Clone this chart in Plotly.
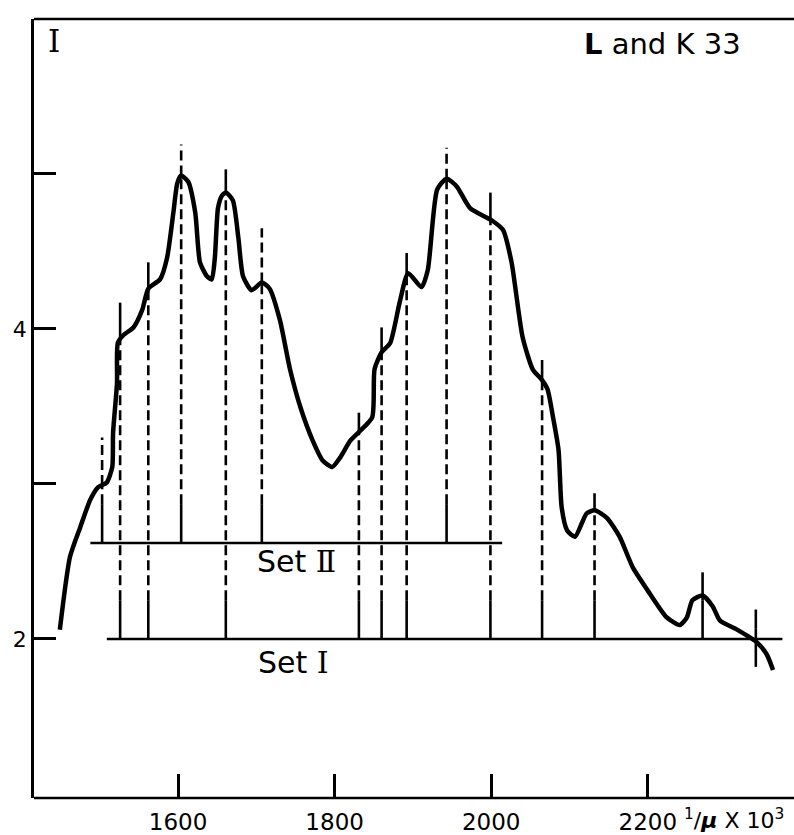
import numpy as np
import plotly.graph_objects as go

# ---- data ----
wavenumber = [1449, 1462, 1475, 1488, 1498, 1509, 1516, 1517, 1522, 1523,
              1530, 1543, 1554, 1562, 1577, 1586, 1594, 1599, 1604, 1613,
              1622, 1628, 1637, 1643, 1647, 1651, 1656, 1661, 1670, 1677, 1683,
              1694, 1707, 1717, 1730, 1743, 1756, 1772, 1785, 1797, 1807, 1820, 1832,
              1848, 1851, 1860, 1871, 1883, 1894, 1911, 1919, 1931, 1943,
              1956, 1973, 2001, 2015, 2026, 2040, 2053, 2065, 2072, 2079,
              2086, 2090, 2097, 2107, 2116, 2122, 2132, 2148, 2164, 2181, 2199,
              2224, 2241, 2250, 2257, 2270, 2283, 2292, 2314, 2339, 2352, 2360]
intensity = [2.06, 2.53, 2.72, 2.90, 2.98, 3.01, 3.11, 3.33, 3.65, 3.91,
             3.96, 4.01, 4.12, 4.26, 4.32, 4.46, 4.75, 4.94, 4.99, 4.95,
             4.75, 4.43, 4.34, 4.32, 4.46, 4.78, 4.86, 4.88, 4.83, 4.59, 4.34,
             4.25, 4.30, 4.26, 4.06, 3.74, 3.50, 3.28, 3.15, 3.11, 3.17, 3.28, 3.34,
             3.43, 3.74, 3.85, 3.91, 4.17, 4.36, 4.27, 4.38, 4.90, 4.97,
             4.92, 4.78, 4.70, 4.64, 4.43, 3.95, 3.74, 3.67, 3.61, 3.43,
             3.22, 2.85, 2.70, 2.66, 2.75, 2.81, 2.83, 2.78, 2.66, 2.46, 2.32,
             2.14, 2.09, 2.14, 2.25, 2.28, 2.21, 2.12, 2.06, 1.98, 1.90, 1.80]

set2_level = 2.62
set2_span = [1488, 2014]
set2_x = [1503, 1604, 1707, 1943]
set2_top = [3.30, 5.19, 4.65, 5.17]

set1_level = 2.0
set1_span = [1509, 2372]
set1_x = [1526, 1562, 1661, 1831, 1860, 1892, 1999, 2065, 2132, 2270, 2338]
set1_top = [4.17, 4.43, 5.03, 3.46, 4.01, 4.49, 4.88, 3.80, 2.94, 2.43, 2.19]
set1_bottom = [2.0, 2.0, 2.0, 2.0, 2.0, 2.0, 2.0, 2.0, 2.0, 2.0, 1.82]

x_ticks = [1600, 1800, 2000, 2200]
y_ticks = [2, 3, 4, 5]
y_ticktext = ["2", "", "4", ""]

fig = go.Figure()

# main spectrum curve
fig.add_trace(go.Scatter(x=wavenumber, y=intensity, mode="lines",
                         line=dict(color="black", width=4.5, shape="spline", smoothing=0.6),
                         hoverinfo="skip", showlegend=False, cliponaxis=False))

# set baselines
fig.add_trace(go.Scatter(x=set2_span, y=[set2_level, set2_level], mode="lines",
                         line=dict(color="black", width=2.5), showlegend=False))
fig.add_trace(go.Scatter(x=set1_span, y=[set1_level, set1_level], mode="lines",
                         line=dict(color="black", width=2.5), showlegend=False,
                         cliponaxis=False))


def build(xs, bottoms, tops, solid_over):
    sx, sy, dx, dy = [], [], [], []
    for xv, b, t in zip(xs, bottoms, tops):
        c = float(np.interp(xv, wavenumber, intensity))
        sb = min(b + 0.25, t)
        sx += [xv, xv, None]
        sy += [b, sb, None]
        if c > sb:
            dx += [xv, xv, None]
            dy += [sb, c, None]
        lo = max(c, sb)
        if t > lo:
            if solid_over:
                sx += [xv, xv, None]
                sy += [lo, t, None]
            else:
                dx += [xv, xv, None]
                dy += [lo, t, None]
    return sx, sy, dx, dy


for xs, bots, tops, so in [
    (set2_x, [set2_level] * len(set2_x), set2_top, False),
    (set1_x, set1_bottom, set1_top, True),
]:
    sx, sy, dx, dy = build(xs, bots, tops, so)
    fig.add_trace(go.Scatter(x=sx, y=sy, mode="lines",
                             line=dict(color="black", width=2.6), showlegend=False))
    fig.add_trace(go.Scatter(x=dx, y=dy, mode="lines",
                             line=dict(color="black", width=2.6, dash="10px,5px"),
                             showlegend=False))

font_main = "DejaVu Sans"
roman = "font-family:DejaVu Serif"
fig.add_annotation(x=1751, y=2.50, text=f"Set <span style='{roman}'>Ⅱ</span>", showarrow=False,
                   font=dict(family=font_main, size=30, color="black"))
fig.add_annotation(x=1747, y=1.85, text=f"Set <span style='{roman}'>Ⅰ</span>", showarrow=False,
                   font=dict(family=font_main, size=30, color="black"))
fig.add_annotation(x=2219, y=5.84, text="<b>L</b> and K 33", showarrow=False,
                   font=dict(family=font_main, size=29, color="black"))
fig.add_annotation(x=1442, y=5.86, text="I", showarrow=False,
                   font=dict(family="DejaVu Serif", size=31, color="black"))
fig.add_annotation(x=2244, xanchor="left", y=0, yref="paper", yanchor="top", yshift=-5,
                   text="<sup>1</sup>/<i><b>μ</b></i> X 10<sup>3</sup>", showarrow=False,
                   font=dict(family=font_main, size=22, color="black"))

# frame lines (top and bottom) running to the page edge
edge = 760 / 750
for yy in (0, 1):
    fig.add_shape(type="line", xref="paper", yref="paper", x0=0, x1=edge, y0=yy, y1=yy,
                  line=dict(color="black", width=2.5))

fig.update_layout(
    width=794, height=835, autosize=False,
    margin=dict(l=34, r=10, t=19, b=37),
    paper_bgcolor="white", plot_bgcolor="white",
    showlegend=False,
)
fig.update_xaxes(range=[1416, 2374], showline=False, automargin=False,
                 ticks="inside", ticklen=24, tickwidth=2.5, tickcolor="black",
                 tickvals=x_ticks, showgrid=False, zeroline=False, ticklabelstandoff=8,
                 tickfont=dict(family=font_main, size=23, color="black"))
fig.update_yaxes(range=[0.974, 6.0], showline=True, linewidth=2.5, linecolor="black",
                 mirror=False, automargin=False, ticks="inside", ticklen=22, tickwidth=2.5,
                 tickcolor="black", tickvals=y_ticks, ticktext=y_ticktext, showgrid=False,
                 zeroline=False, tickfont=dict(family=font_main, size=22, color="black"))

fig.write_html("out.html")
